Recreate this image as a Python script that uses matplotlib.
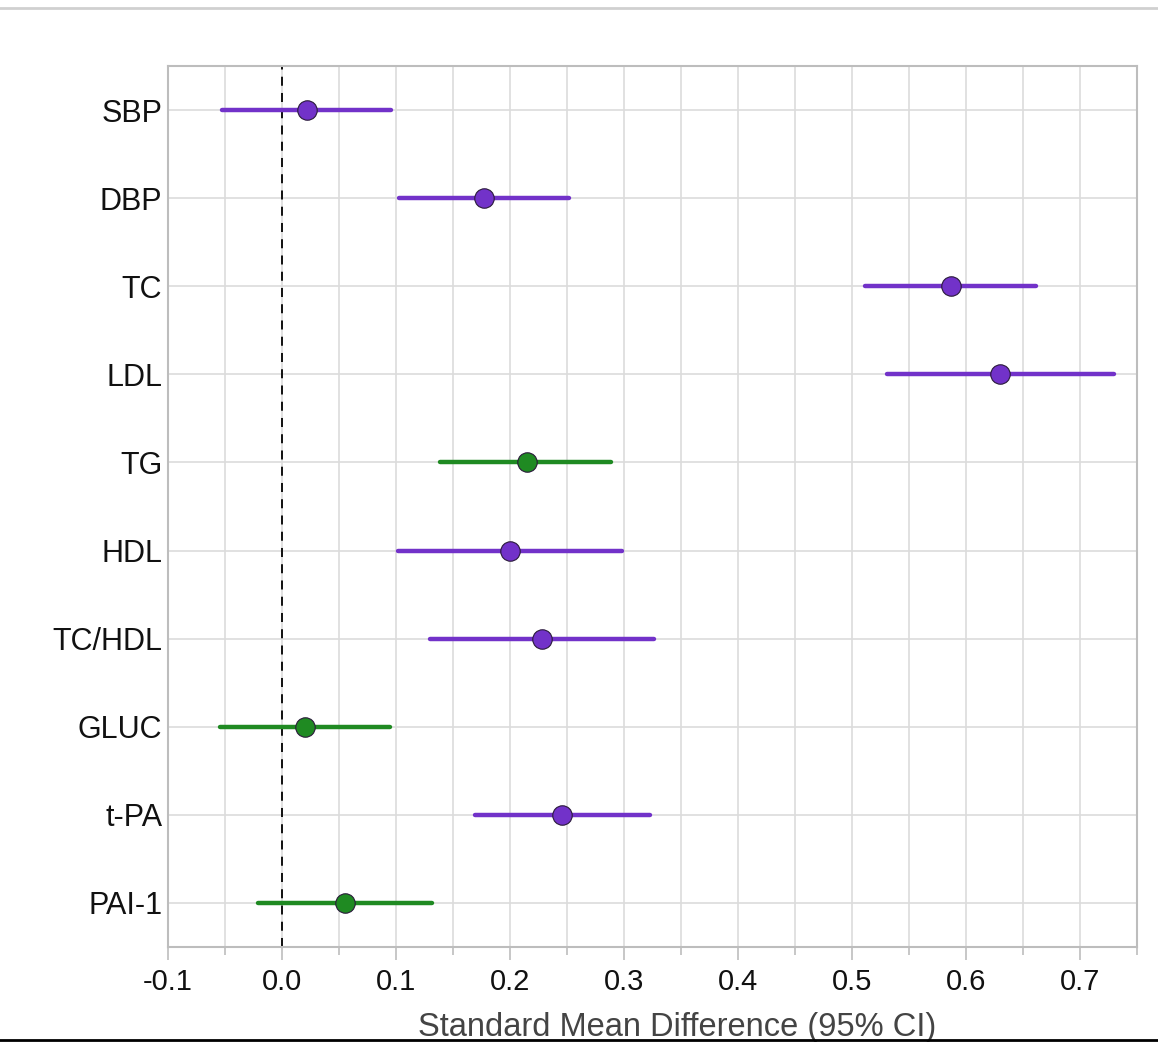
import matplotlib.pyplot as plt
from matplotlib.lines import Line2D
from matplotlib.ticker import MultipleLocator

# outcomes, top to bottom
labels = ['SBP', 'DBP', 'TC', 'LDL', 'TG', 'HDL', 'TC/HDL', 'GLUC', 't-PA', 'PAI-1']
smd = [0.022, 0.177, 0.587, 0.630, 0.215, 0.200, 0.228, 0.020, 0.246, 0.055]
ci_low = [-0.053, 0.103, 0.511, 0.531, 0.139, 0.102, 0.130, -0.054, 0.169, -0.021]
ci_high = [0.096, 0.252, 0.661, 0.730, 0.289, 0.298, 0.326, 0.095, 0.323, 0.132]
group = ['p', 'p', 'p', 'p', 'g', 'p', 'p', 'g', 'p', 'g']

colors = {'p': '#7232c9', 'g': '#1f8a22'}

plt.rcParams['font.family'] = ['Liberation Sans', 'DejaVu Sans']

fig = plt.figure(figsize=(11.58, 10.42), dpi=100)
ax = fig.add_axes([0.145, 0.0912, 0.837, 0.8455])

ys = list(range(len(labels)))
for y, m, lo, hi, g in zip(ys, smd, ci_low, ci_high, group):
    c = colors[g]
    ax.plot([lo, hi], [y, y], color=c, linewidth=3.2, solid_capstyle='round', zorder=3)
    ax.plot(m, y, 'o', color=c, markersize=14, markeredgecolor='#2a1a3a',
            markeredgewidth=0.8, zorder=4)

ax.axvline(0, color='black', linestyle=(0, (5, 4)), linewidth=1.3, zorder=2)

ax.set_xlim(-0.1, 0.75)
ax.set_ylim(len(labels) - 0.5, -0.5)
ax.set_yticks(ys)
ax.set_yticklabels(labels)
ax.xaxis.set_major_locator(MultipleLocator(0.1))
ax.xaxis.set_minor_locator(MultipleLocator(0.05))
ax.set_xticklabels([f'{v:.1f}' for v in ax.get_xticks()])

ax.grid(True, which='both', axis='x', color='#dcdcdc', linewidth=1.2, zorder=0)
ax.grid(True, which='major', axis='y', color='#dcdcdc', linewidth=1.2, zorder=0)
ax.set_axisbelow(True)

for s in ax.spines.values():
    s.set_color('#bdbdbd')
    s.set_linewidth(1.5)

ax.tick_params(axis='y', length=0, pad=4, labelsize=22, labelcolor='#111111')
ax.tick_params(axis='x', which='major', length=9, width=1.2, color='#bdbdbd',
               pad=6, labelsize=21, labelcolor='#111111')
ax.tick_params(axis='x', which='minor', length=6, width=1.2, color='#bdbdbd')

ax.set_xlabel('Standard Mean Difference (95% CI)', fontsize=23.5, color='#444444')
ax.xaxis.set_label_coords(0.525, -0.074)

# frame lines at top and bottom of the figure
fig.add_artist(Line2D([0, 1], [0.9925, 0.9925], color='#d0d0d0', linewidth=2))
fig.add_artist(Line2D([0, 1], [0.002, 0.002], color='black', linewidth=2))

fig.savefig('out.png', dpi=100)
